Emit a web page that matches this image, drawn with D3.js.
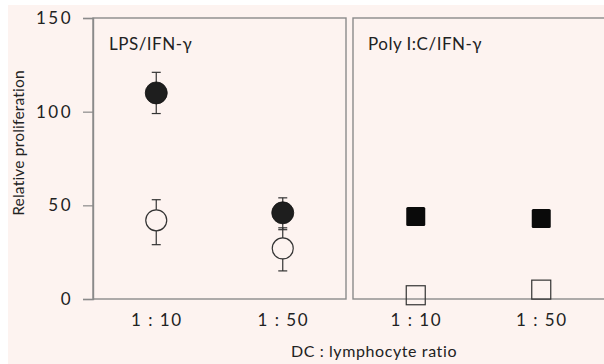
<!DOCTYPE html>
<html><head><meta charset="utf-8">
<script src="https://cdn.jsdelivr.net/npm/d3@7"></script>
<style>html,body{margin:0;padding:0;background:#fff;}svg{display:block;}</style>
</head><body>
<svg id="c" width="604" height="364"></svg>
<script>
const ratios = ["1 : 10", "1 : 50"];
const yTicks = [0, 50, 100, 150];
const panels = ["LPS/IFN-γ", "Poly I:C/IFN-γ"];
// LPS/IFN-γ panel (circles)
const lpsFilled = [110, 46];
const lpsFilledLo = [99, 37];
const lpsFilledHi = [121, 54];
const lpsOpen = [42, 27];
const lpsOpenLo = [29, 15];
const lpsOpenHi = [53, 38];
// Poly I:C/IFN-γ panel (squares)
const polyFilled = [44, 43];
const polyOpen = [2, 5];

const svg = d3.select("#c");
const bg = "#fdf3f0";
const ink = "#222";
const font = "Lato, 'Open Sans', sans-serif";

svg.append("rect").attr("x", 8).attr("y", 5).attr("width", 596).attr("height", 359).attr("fill", bg);

const y = d3.scaleLinear().domain([0, 150]).range([299, 18]);
const xL = d3.scalePoint().domain(ratios).range([93, 346]).padding(0.5);
const xR = d3.scalePoint().domain(ratios).range([353, 604]).padding(0.5);

// panel frames
[[93, 346], [353, 606]].forEach(([a, b]) => {
  svg.append("rect").attr("x", a).attr("y", y(150)).attr("width", b - a).attr("height", y(0) - y(150))
    .attr("fill", "none").attr("stroke", "#8a8a8a").attr("stroke-width", 1.4);
});

// y axis
const yAxis = svg.append("g").attr("transform", "translate(93,0)")
  .call(d3.axisLeft(y).tickValues(yTicks).tickSize(10).tickPadding(10).tickFormat(d3.format("d")));
yAxis.select(".domain").attr("stroke", "#8a8a8a").attr("stroke-width", 1.4);
yAxis.selectAll(".tick line").attr("stroke", "#8a8a8a").attr("stroke-width", 1.2);
yAxis.selectAll(".tick text").attr("fill", ink).attr("font-family", font).attr("font-size", 17)
  .attr("letter-spacing", 2.5);

svg.append("text").attr("transform", "translate(24,143) rotate(-90)").attr("text-anchor", "middle")
  .attr("font-family", font).attr("font-size", 15.5).attr("fill", ink).attr("letter-spacing", 0.2)
  .text("Relative proliferation");

// x axes
[xL, xR].forEach(x => {
  const g = svg.append("g").attr("transform", "translate(0,299)")
    .call(d3.axisBottom(x).tickSize(0).tickPadding(15));
  g.select(".domain").remove();
  g.selectAll(".tick text").attr("fill", ink).attr("font-family", font).attr("font-size", 17)
    .attr("letter-spacing", 1.5);
});

svg.append("text").attr("x", 374).attr("y", 357).attr("text-anchor", "middle")
  .attr("font-family", font).attr("font-size", 16).attr("fill", ink).attr("letter-spacing", 0.6)
  .text("DC : lymphocyte ratio");

// panel titles
svg.append("text").attr("x", 109).attr("y", 50).attr("font-family", font).attr("font-size", 17)
  .attr("fill", ink).attr("letter-spacing", 0.5).text(panels[0]);
svg.append("text").attr("x", 368).attr("y", 50).attr("font-family", font).attr("font-size", 17)
  .attr("fill", ink).attr("letter-spacing", 0.5).text(panels[1]);

// error bars
function errBar(x, lo, hi) {
  const g = svg.append("g").attr("stroke", "#333").attr("stroke-width", 1.2);
  g.append("line").attr("x1", x).attr("x2", x).attr("y1", y(lo)).attr("y2", y(hi));
  g.append("line").attr("x1", x - 4.5).attr("x2", x + 4.5).attr("y1", y(lo)).attr("y2", y(lo));
  g.append("line").attr("x1", x - 4.5).attr("x2", x + 4.5).attr("y1", y(hi)).attr("y2", y(hi));
}
ratios.forEach((r, i) => {
  errBar(xL(r), lpsOpenLo[i], lpsOpenHi[i]);
  errBar(xL(r), lpsFilledLo[i], lpsFilledHi[i]);
});

// open circles
svg.selectAll("circle.open").data(lpsOpen).join("circle").attr("class", "open")
  .attr("cx", (d, i) => xL(ratios[i])).attr("cy", d => y(d)).attr("r", 10.5)
  .attr("fill", bg).attr("stroke", "#333").attr("stroke-width", 1.2);
// filled circles
svg.selectAll("circle.filled").data(lpsFilled).join("circle").attr("class", "filled")
  .attr("cx", (d, i) => xL(ratios[i])).attr("cy", d => y(d)).attr("r", 11)
  .attr("fill", "#1e1e1e").attr("stroke", "#111").attr("stroke-width", 0.8);

// squares
const s = 19;
svg.selectAll("rect.filled").data(polyFilled).join("rect").attr("class", "filled")
  .attr("x", (d, i) => xR(ratios[i]) - s / 2).attr("y", d => y(d) - s / 2)
  .attr("width", s).attr("height", s).attr("fill", "#0a0a0a").attr("rx", 1.5);
svg.selectAll("rect.open").data(polyOpen).join("rect").attr("class", "open")
  .attr("x", (d, i) => xR(ratios[i]) - s / 2).attr("y", d => y(d) - s / 2)
  .attr("width", s).attr("height", s).attr("fill", "none").attr("stroke", "#333").attr("stroke-width", 1.2);
</script>
</body></html>
